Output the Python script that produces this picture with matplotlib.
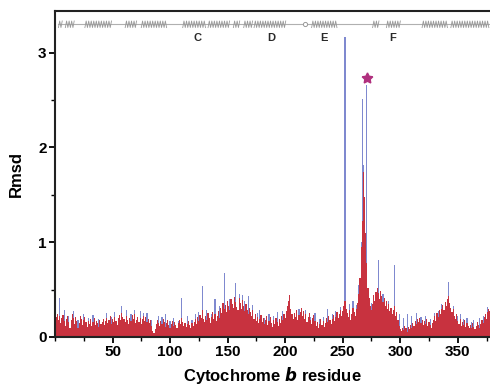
import numpy as np
import matplotlib
matplotlib.use('Agg')
import matplotlib.pyplot as plt
from matplotlib.ticker import MultipleLocator

plt.rcParams['font.family'] = ['Liberation Sans', 'DejaVu Sans']
plt.rcParams['font.weight'] = 'bold'

# per-residue rmsd, red series (residues 1..378)
rmsd_red = [
    0.21, 0.24, 0.18, 0.22, 0.15, 0.20, 0.23, 0.17, 0.12, 0.19, 0.22, 0.16, 0.10, 0.18, 0.24, 0.20, 0.14, 0.21, 0.17, 0.09,
    0.15, 0.22, 0.19, 0.13, 0.18, 0.21, 0.16, 0.11, 0.17, 0.14, 0.19, 0.12, 0.16, 0.20, 0.13, 0.17, 0.15, 0.11, 0.18, 0.14,
    0.16, 0.19, 0.13, 0.17, 0.20, 0.15, 0.18, 0.22, 0.14, 0.19, 0.16, 0.21, 0.17, 0.13, 0.20, 0.23, 0.18, 0.25, 0.21, 0.19,
    0.16, 0.22, 0.18, 0.14, 0.20, 0.17, 0.23, 0.19, 0.24, 0.15, 0.18, 0.21, 0.16, 0.20, 0.14, 0.19, 0.22, 0.17, 0.21, 0.16,
    0.19, 0.15, 0.18, 0.12, 0.06, 0.04, 0.08, 0.14, 0.18, 0.15, 0.12, 0.17, 0.14, 0.19, 0.16, 0.11, 0.15, 0.18, 0.13, 0.10,
    0.14, 0.17, 0.12, 0.16, 0.13, 0.09, 0.15, 0.18, 0.14, 0.20, 0.16, 0.12, 0.15, 0.11, 0.14, 0.17, 0.13, 0.10, 0.15, 0.12,
    0.16, 0.19, 0.14, 0.21, 0.17, 0.23, 0.20, 0.28, 0.19, 0.16, 0.22, 0.18, 0.25, 0.20, 0.15, 0.21, 0.26, 0.19, 0.24, 0.17,
    0.22, 0.27, 0.20, 0.31, 0.25, 0.36, 0.30, 0.34, 0.26, 0.38, 0.33, 0.29, 0.40, 0.35, 0.31, 0.42, 0.37, 0.32, 0.28, 0.41,
    0.36, 0.30, 0.39, 0.33, 0.27, 0.35, 0.29, 0.24, 0.31, 0.26, 0.22, 0.28, 0.19, 0.24, 0.17, 0.21, 0.15, 0.19, 0.23, 0.16,
    0.20, 0.14, 0.18, 0.22, 0.13, 0.17, 0.21, 0.15, 0.11, 0.18, 0.14, 0.20, 0.16, 0.12, 0.19, 0.15, 0.22, 0.18, 0.24, 0.20,
    0.27, 0.33, 0.38, 0.44, 0.30, 0.24, 0.19, 0.25, 0.21, 0.28, 0.18, 0.23, 0.26, 0.31, 0.22, 0.27, 0.19, 0.24, 0.16, 0.21,
    0.25, 0.18, 0.14, 0.20, 0.23, 0.17, 0.12, 0.16, 0.10, 0.14, 0.19, 0.13, 0.17, 0.11, 0.15, 0.20, 0.16, 0.22, 0.18, 0.14,
    0.19, 0.23, 0.17, 0.21, 0.26, 0.20, 0.24, 0.29, 0.22, 0.27, 0.33, 0.38, 0.30, 0.25, 0.21, 0.28, 0.18, 0.24, 0.31, 0.26,
    0.22, 0.30, 0.36, 0.45, 0.62, 0.95, 1.22, 1.74, 1.48, 1.10, 0.78, 0.52, 0.41, 0.33, 0.28, 0.35, 0.44, 0.38, 0.47, 0.52,
    0.46, 0.40, 0.49, 0.43, 0.37, 0.41, 0.33, 0.38, 0.30, 0.35, 0.27, 0.31, 0.24, 0.29, 0.33, 0.22, 0.26, 0.18, 0.12, 0.08,
    0.06, 0.10, 0.07, 0.12, 0.09, 0.05, 0.11, 0.08, 0.13, 0.10, 0.15, 0.12, 0.17, 0.14, 0.19, 0.16, 0.20, 0.15, 0.18, 0.13,
    0.17, 0.14, 0.19, 0.12, 0.16, 0.13, 0.10, 0.15, 0.18, 0.22, 0.17, 0.25, 0.21, 0.28, 0.24, 0.30, 0.34, 0.29, 0.37, 0.33,
    0.40, 0.43, 0.36, 0.31, 0.26, 0.30, 0.22, 0.19, 0.24, 0.17, 0.14, 0.19, 0.12, 0.16, 0.13, 0.18, 0.11, 0.15, 0.12, 0.09,
    0.13, 0.10, 0.15, 0.11, 0.08, 0.12, 0.16, 0.13, 0.10, 0.14, 0.18, 0.15, 0.21, 0.24, 0.19, 0.26, 0.30, 0.27,
]

# blue series: where it pokes above the red one (elsewhere hidden under red)
blue_res = [4, 8, 12, 16, 20, 25, 29, 33, 38, 45, 49, 52, 58, 62, 66, 69, 74, 77, 80, 84,
            90, 93, 96, 100, 103, 107, 110, 115, 119, 122, 125, 128, 132, 136, 139, 143, 147, 150, 152, 157,
            160, 163, 165, 168, 172, 176, 178, 182, 186, 190, 193, 198, 208, 212, 218, 222, 226, 230, 233, 237,
            241, 244, 248, 252, 256, 259, 262, 264, 266, 267, 268, 271, 275, 281, 285, 290, 295, 299, 303, 306,
            310, 314, 318, 322, 326, 330, 333, 336, 342, 346, 350, 352, 355, 358, 362, 364, 369, 372, 376]
blue_val = [0.41, 0.28, 0.22, 0.27, 0.18, 0.24, 0.20, 0.23, 0.19, 0.25, 0.21, 0.26, 0.33, 0.28, 0.24, 0.29, 0.27, 0.25, 0.25, 0.18,
            0.22, 0.21, 0.24, 0.17, 0.20, 0.17, 0.41, 0.22, 0.18, 0.24, 0.26, 0.54, 0.28, 0.24, 0.40, 0.33, 0.68, 0.36, 0.40, 0.57,
            0.45, 0.44, 0.38, 0.43, 0.34, 0.25, 0.28, 0.20, 0.24, 0.22, 0.26, 0.27, 0.24, 0.30, 0.28, 0.21, 0.25, 0.19, 0.21, 0.30,
            0.24, 0.27, 0.32, 3.17, 0.35, 0.38, 0.34, 0.55, 1.00, 2.51, 1.82, 2.66, 0.36, 0.81, 0.45, 0.38, 0.76, 0.24, 0.20, 0.24,
            0.22, 0.25, 0.21, 0.22, 0.19, 0.25, 0.27, 0.35, 0.58, 0.33, 0.22, 0.24, 0.19, 0.20, 0.16, 0.18, 0.20, 0.22, 0.32]

# secondary structure (helix ranges, residues)
helices = [(3, 7), (9, 17), (26, 50), (61, 71), (75, 98), (111, 131), (133, 152), (155, 161), (164, 172),
           (173, 201), (223, 245), (276, 282), (288, 301), (319, 341), (344, 378)]
helix_labels = ['C', 'D', 'E', 'F']
helix_label_pos = [124, 188, 234, 293]
star_res = 271

residues = np.arange(1, len(rmsd_red) + 1)
red = np.array(rmsd_red)
blue = red.copy()
for r, v in zip(blue_res, blue_val):
    blue[r - 1] = v

fig = plt.figure(figsize=(4.9, 3.89), dpi=100)
ax = fig.add_axes([0.1122, 0.1337, 0.8878, 0.838])

ax.bar(residues, blue, width=1.0, color='#7f89cf', linewidth=0)
ax.bar(residues, red, width=1.0, color='#c8323f', linewidth=0)

# helix cartoon at top
y0 = 3.30
amp = 0.035
ax.plot([3, 378], [y0, y0], color='#b0b0b0', lw=0.8, zorder=3)
for s, e in helices:
    xs = np.arange(s, e + 0.01, 1.1)
    ys = y0 + amp * np.where(np.arange(len(xs)) % 2 == 0, -1, 1)
    ax.plot(xs, ys, color='#999999', lw=0.6, zorder=4)
ax.plot([217], [y0], marker='o', ms=3, mfc='white', mec='#999999', mew=0.7, zorder=5)
for lab, xp in zip(helix_labels, helix_label_pos):
    ax.text(xp, 3.15, lab, ha='center', va='center', fontsize=8, fontweight='bold', color='#2a2a2a')

ax.plot([star_res], [2.73], marker=(5, 1, 0), ms=8, color='#b0307e', mec='#b0307e', linestyle='none', zorder=5)

ax.set_xlim(0, 378)
ax.set_ylim(0, 3.44)
ax.xaxis.set_major_locator(MultipleLocator(50))
ax.xaxis.set_minor_locator(MultipleLocator(25))
ax.yaxis.set_major_locator(MultipleLocator(1))
ax.yaxis.set_minor_locator(MultipleLocator(0.5))
ax.set_xticks([50, 100, 150, 200, 250, 300, 350])
ax.tick_params(which='major', direction='out', length=4, width=1.3, labelsize=11, pad=2)
ax.tick_params(which='minor', direction='out', length=3, width=1.0)
for lab in ax.get_xticklabels() + ax.get_yticklabels():
    lab.set_fontweight('bold')

for sp in ['left', 'top', 'bottom']:
    ax.spines[sp].set_linewidth(1.5)
    ax.spines[sp].set_color('#222222')
ax.spines['right'].set_visible(False)

ax.set_xlabel('Cytochrome $\\boldsymbol{b}$ residue', fontsize=12, fontweight='bold', labelpad=4)
ax.set_ylabel('Rmsd', fontsize=12, fontweight='bold', labelpad=10)

fig.savefig('out.png', dpi=100)
